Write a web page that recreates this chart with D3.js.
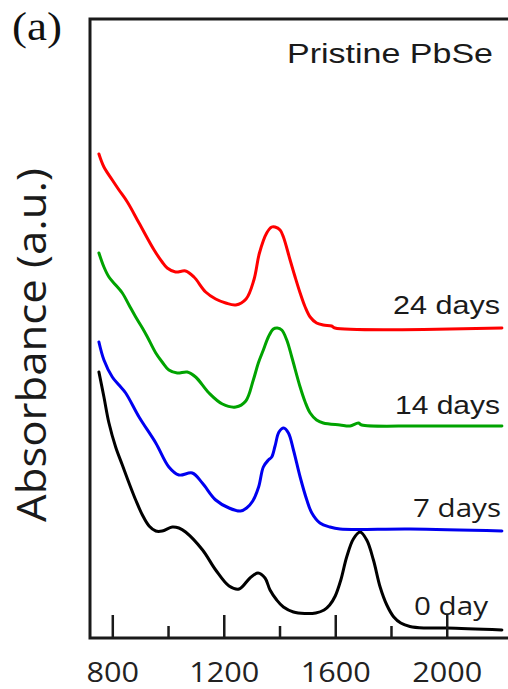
<!DOCTYPE html>
<html>
<head>
<meta charset="utf-8">
<script src="https://cdn.jsdelivr.net/npm/d3@7/dist/d3.min.js"></script>
<style>
  html, body { margin: 0; padding: 0; background: #fff; }
  svg { display: block; }
</style>
</head>
<body>
<svg id="chart" width="508" height="689"></svg>
<script>
// ---------- data (wavelength nm, absorbance a.u. with vertical offsets) ----------
const seriesNames = ["0 day", "7 days", "14 days", "24 days"];

const day0 = [[752,2.66],[770,2.41],[788,2.15],[812,1.91],[836,1.73],[860,1.55],[884,1.38],[908,1.23],
  [932,1.12],[956,1.07],[979,1.07],[1015,1.11],[1039,1.10],[1063,1.06],[1124,0.88],[1171,0.68],
  [1219,0.52],[1255,0.49],[1294,0.60],[1323,0.65],[1348,0.60],[1366,0.48],[1390,0.38],[1414,0.31],
  [1450,0.26],[1490,0.245],[1530,0.25],[1560,0.28],[1580,0.33],[1600,0.42],[1620,0.58],[1641,0.81],[1665,0.99],[1689,1.06],
  [1713,0.98],[1737,0.78],[1761,0.51],[1785,0.33],[1810,0.21],[1835,0.15],[1868,0.115],[1920,0.10],[2001,0.10],[2198,0.08]];

const day7 = [[752,2.96],[770,2.78],[800,2.61],[824,2.53],[848,2.45],[896,2.21],[956,1.95],[1003,1.71],
  [1039,1.63],[1087,1.65],[1123,1.55],[1171,1.38],[1219,1.30],[1260,1.27],[1282,1.30],[1304,1.37],
  [1325,1.51],[1342,1.71],[1360,1.78],[1372,1.81],[1384,1.92],[1398,2.06],[1415,2.10],[1432,2.05],
  [1450,1.88],[1474,1.61],[1498,1.38],[1516,1.25],[1545,1.15],[1581,1.11],[1617,1.09],[1868,1.09],[2198,1.07]];

const day14 = [[752,3.85],[770,3.71],[788,3.61],[812,3.53],[836,3.45],[860,3.33],[884,3.21],[908,3.10],
  [926,3.01],[956,2.85],[979,2.76],[1003,2.68],[1033,2.65],[1069,2.66],[1099,2.61],[1147,2.45],
  [1195,2.34],[1243,2.31],[1279,2.37],[1306,2.58],[1324,2.75],[1342,2.88],[1360,3.01],[1378,3.09],
  [1392,3.10],[1408,3.08],[1426,2.98],[1444,2.81],[1474,2.51],[1492,2.36],[1510,2.25],[1533,2.18],
  [1557,2.15],[1617,2.13],[1653,2.12],[1683,2.15],[1695,2.13],[1900,2.12],[2198,2.12]];

const day24 = [[752,4.84],[770,4.71],[800,4.58],[824,4.48],[854,4.36],[896,4.15],[950,3.88],[979,3.76],
  [997,3.70],[1027,3.66],[1063,3.67],[1093,3.61],[1135,3.46],[1171,3.39],[1207,3.35],[1243,3.33],
  [1280,3.39],[1308,3.58],[1328,3.85],[1354,4.05],[1372,4.11],[1384,4.11],[1402,4.08],[1414,4.01],
  [1438,3.78],[1456,3.61],[1474,3.45],[1492,3.31],[1510,3.21],[1533,3.15],[1557,3.13],[1587,3.12],
  [1599,3.10],[2198,3.10]];

const majorTicks = [800, 1200, 1600, 2000];
const minorTicks = [1000, 1400, 1800];

// ---------- layout ----------
const svg = d3.select("#chart");
const plotLeft = 90, plotTop = 19, plotBottom = 638, plotRight = 508.6;
const x = d3.scaleLinear().domain([720, 2222]).range([plotLeft, plotRight]);
const y = d3.scaleLinear().domain([0, 6.19]).range([plotBottom, plotTop]);

const seriesData = [day0, day7, day14, day24];
const colors = ["#000000", "#0000f0", "#00a300", "#ff0000"];

const line = d3.line()
  .x(d => x(d[0]))
  .y(d => y(d[1]))
  .curve(d3.curveCatmullRom.alpha(0.5));

svg.selectAll("path.series")
  .data(seriesData)
  .enter().append("path")
  .attr("class", "series")
  .attr("d", line)
  .attr("fill", "none")
  .attr("stroke", (d, i) => colors[i])
  .attr("stroke-width", 3)
  .attr("stroke-linejoin", "round")
  .attr("stroke-linecap", "round");

// axes: ticks pointing inward
const gMaj = svg.append("g").attr("transform", `translate(0,${plotBottom})`)
  .call(d3.axisBottom(x).tickValues(majorTicks).tickSize(-23).tickPadding(30).tickFormat(d3.format("d")));
const gMin = svg.append("g").attr("transform", `translate(0,${plotBottom})`)
  .call(d3.axisBottom(x).tickValues(minorTicks).tickSize(-12).tickFormat(""));
[gMaj, gMin].forEach(g => {
  g.select(".domain").remove();
  g.selectAll(".tick line").attr("stroke", "#1a1a1a").attr("stroke-width", 2.5);
});
gMaj.selectAll(".tick text")
  .attr("fill", "#222")
  .attr("y", 44)
  .attr("dy", 0)
  .style("font-family", "'Open Sans', sans-serif")
  .style("font-size", "28px")
  .attr("textLength", d => String(d).length * 17.5)
  .attr("lengthAdjust", "spacingAndGlyphs");

// frame (left, top, bottom; right edge beyond view)
svg.append("path")
  .attr("d", `M${plotRight + 10},${plotTop} H${plotLeft} V${plotBottom} H${plotRight + 10}`)
  .attr("fill", "none")
  .attr("stroke", "#1a1a1a")
  .attr("stroke-width", 3);

// y label
svg.append("text")
  .attr("transform", `translate(46,345) rotate(-90)`)
  .attr("text-anchor", "middle")
  .attr("fill", "#1a1a1a")
  .style("font-family", "'Open Sans', sans-serif")
  .style("font-size", "40px")
  .attr("textLength", 354)
  .attr("lengthAdjust", "spacingAndGlyphs")
  .text("Absorbance (a.u.)");

// panel label
svg.append("text")
  .attr("x", 12).attr("y", 40)
  .attr("fill", "#111")
  .style("font-family", "'Liberation Serif', 'Times New Roman', serif")
  .style("font-size", "40px")
  .attr("textLength", 50)
  .attr("lengthAdjust", "spacingAndGlyphs")
  .text("(a)");

svg.append("text")
  .attr("x", 287).attr("y", 62.5)
  .attr("fill", "#1a1a1a")
  .style("font-family", "'Liberation Sans', Arial, sans-serif")
  .style("font-size", "27px")
  .attr("textLength", 206)
  .attr("lengthAdjust", "spacingAndGlyphs")
  .text("Pristine PbSe");

// series labels
const labelPos = [
  {x: 414, y: 615, w: 74, f: "'Open Sans', sans-serif"},
  {x: 413, y: 516.5, w: 88, f: "'Open Sans', sans-serif"},
  {x: 395, y: 413.5, w: 105, f: "'Liberation Sans', Arial, sans-serif"},
  {x: 393, y: 313.5, w: 107, f: "'Liberation Sans', Arial, sans-serif"}
];
svg.selectAll("text.lab")
  .data(seriesNames)
  .enter().append("text")
  .attr("class", "lab")
  .attr("x", (d, i) => labelPos[i].x)
  .attr("y", (d, i) => labelPos[i].y)
  .attr("fill", "#1a1a1a")
  .style("font-family", (d, i) => labelPos[i].f)
  .style("font-size", "26px")
  .attr("textLength", (d, i) => labelPos[i].w)
  .attr("lengthAdjust", "spacingAndGlyphs")
  .text(d => d);
</script>
</body>
</html>
